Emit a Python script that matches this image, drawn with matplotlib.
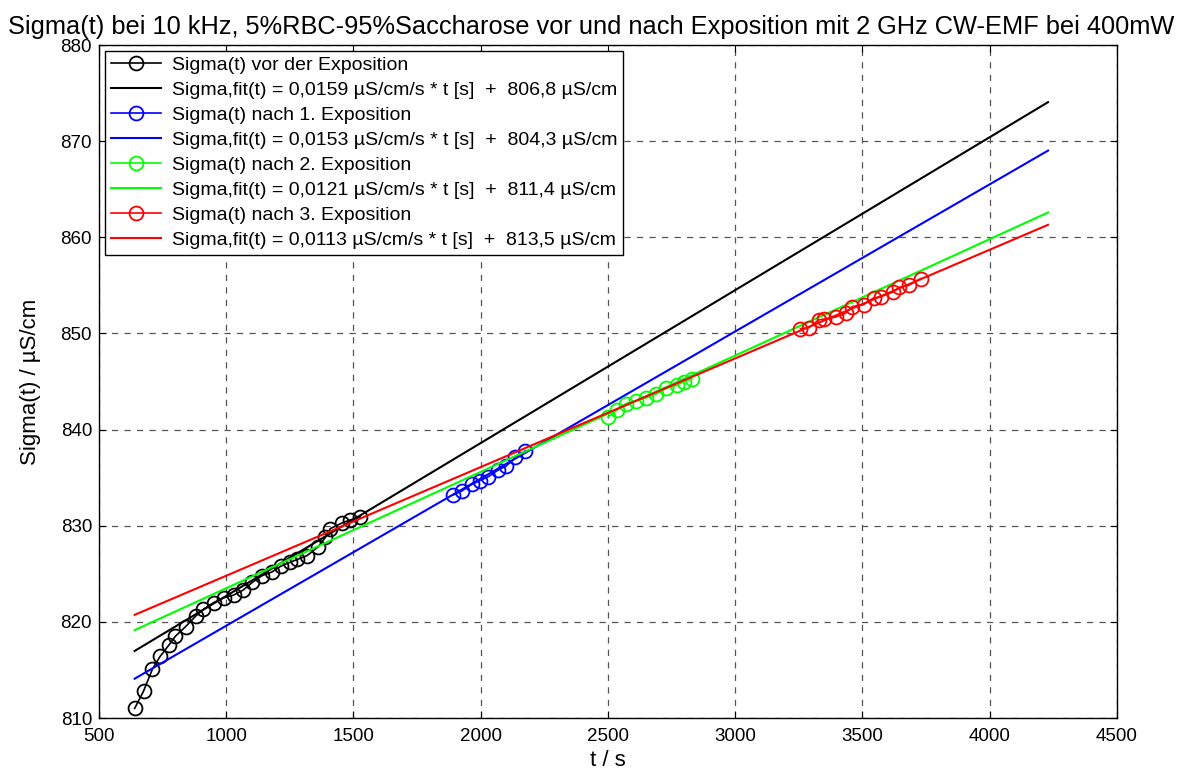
import numpy as np
import matplotlib
matplotlib.use("Agg")
import matplotlib.pyplot as plt

plt.rcParams['font.family'] = ['Liberation Sans', 'DejaVu Sans']

t_vor = [640, 675, 710, 740, 775, 800, 840, 880, 910, 950, 990, 1030, 1066, 1102,
         1140, 1180, 1215, 1251, 1280, 1318, 1361, 1390, 1409, 1456, 1487, 1527]
s_vor = [811.0, 812.8, 815.1, 816.4, 817.6, 818.5, 819.5, 820.6, 821.3, 822.0, 822.5, 822.8,
         823.3, 824.1, 824.8, 825.2, 825.8, 826.2, 826.5, 826.9, 827.8, 828.8, 829.7, 830.3, 830.6, 830.9]

t_n1 = [1892, 1925, 1965, 1998, 2030, 2069, 2100, 2136, 2175]
s_n1 = [833.2, 833.6, 834.3, 834.7, 835.1, 835.8, 836.2, 837.1, 837.8]

t_n2 = [2500, 2535, 2570, 2610, 2650, 2690, 2730, 2770, 2800, 2830]
s_n2 = [841.3, 842.0, 842.7, 843.0, 843.3, 843.7, 844.3, 844.6, 845.0, 845.3]

t_n3 = [3257, 3290, 3328, 3350, 3395, 3434, 3461, 3505, 3544, 3572, 3619, 3645, 3682, 3729]
s_n3 = [850.5, 850.6, 851.4, 851.5, 851.7, 852.1, 852.8, 853.0, 853.7, 853.8, 854.3, 854.8, 855.0, 855.7]

# fit parameters from the legend
slopes = [0.0159, 0.0153, 0.0121, 0.0113]
offsets = [806.8, 804.3, 811.4, 813.5]
t_fit = np.array([640, 4230])

labels_data = ['Sigma(t) vor der Exposition', 'Sigma(t) nach 1. Exposition',
               'Sigma(t) nach 2. Exposition', 'Sigma(t) nach 3. Exposition']
colors = ['black', 'blue', '#00ff00', 'red']

fig = plt.figure(figsize=(11.83, 7.76), dpi=100)
ax = fig.add_axes([0.0837, 0.0747, 0.8603, 0.8673])

series = [(t_vor, s_vor), (t_n1, s_n1), (t_n2, s_n2), (t_n3, s_n3)]
for (t, s), m, b, c, lab in zip(series, slopes, offsets, colors, labels_data):
    ax.plot(t, s, '-o', color=c, mfc='none', mec=c, ms=10, mew=1.3, lw=1.2, label=lab)
    fit_lab = 'Sigma,fit(t) = %s µS/cm/s * t [s]  +  %s µS/cm' % (
        ('%.4f' % m).replace('.', ','), ('%.1f' % b).replace('.', ','))
    ax.plot(t_fit, m * t_fit + b, '-', color=c, lw=1.5, label=fit_lab)

ax.set_xlim(500, 4500)
ax.set_ylim(810, 880)
ax.set_xticks(np.arange(500, 4501, 500))
ax.set_yticks(np.arange(810, 881, 10))
ax.grid(True, linestyle=(0, (5, 5)), color='#555555', lw=0.9)
ax.tick_params(direction='in', top=True, right=True, labelsize=13.5, length=5)
ax.tick_params(axis='x', pad=7)
ax.tick_params(axis='y', pad=5)
for sp in ax.spines.values():
    sp.set_linewidth(1.0)

ax.set_xlabel('t / s', fontsize=16, labelpad=4)
ax.set_ylabel('Sigma(t) / µS/cm', fontsize=16, labelpad=14)
fig.text(0.5, 0.965, 'Sigma(t) bei 10 kHz, 5%RBC-95%Saccharose vor und nach Exposition mit 2 GHz CW-EMF bei 400mW',
         fontsize=18.3, ha='center', va='center')

leg = ax.legend(loc='upper left', fontsize=14, frameon=True, fancybox=False,
                edgecolor='black', framealpha=1, borderpad=0.3, labelspacing=0.38,
                handlelength=2.6, handletextpad=0.55, borderaxespad=0.3)
leg.get_frame().set_linewidth(1.0)

fig.savefig('out.png', dpi=100)
